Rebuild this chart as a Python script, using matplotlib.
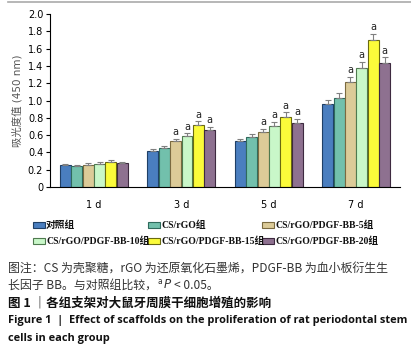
import matplotlib
matplotlib.use("Agg")
import matplotlib.pyplot as plt
from matplotlib.patches import Rectangle
import numpy as np

plt.rcParams['font.family'] = ['DejaVu Sans', 'Noto Sans CJK SC']

# 数据
days = ['1 d', '3 d', '5 d', '7 d']
groups = ['对照组', 'CS/rGO组', 'CS/rGO/PDGF-BB-5组',
          'CS/rGO/PDGF-BB-10组', 'CS/rGO/PDGF-BB-15组', 'CS/rGO/PDGF-BB-20组']
means = [
    [0.25, 0.24, 0.26, 0.265, 0.29, 0.275],   # 1d
    [0.415, 0.45, 0.53, 0.585, 0.72, 0.665],  # 3d
    [0.53, 0.575, 0.635, 0.71, 0.815, 0.74],  # 5d
    [0.96, 1.025, 1.215, 1.38, 1.695, 1.43],  # 7d
]
errs = [
    [0.015, 0.012, 0.015, 0.02, 0.02, 0.02],
    [0.03, 0.03, 0.03, 0.035, 0.04, 0.03],
    [0.03, 0.035, 0.04, 0.04, 0.05, 0.045],
    [0.05, 0.06, 0.06, 0.07, 0.08, 0.07],
]
# 显著性标记 (与对照组比较)
sig = [
    [0, 0, 0, 0, 0, 0],
    [0, 0, 1, 1, 1, 1],
    [0, 0, 1, 1, 1, 1],
    [0, 0, 1, 1, 1, 1],
]
yticks = [0, 0.2, 0.4, 0.6, 0.8, 1.0, 1.2, 1.4, 1.6, 1.8, 2.0]
ytick_labels = ['0', '0.2', '0.4', '0.6', '0.8', '1.0', '1.2', '1.4', '1.6', '1.8', '2.0']

colors = ['#4a7ebf', '#72c0ac', '#dccb98', '#c9f7c9', '#fbfb3a', '#8e7190']
edges = ['#1f3f66', '#2f6a5c', '#7a6a40', '#4f7a4f', '#6a6a10', '#3e2a40']

W, H = 411.0, 351.0
fig = plt.figure(figsize=(4.11, 3.51), dpi=100)
ax = fig.add_axes([0.122, 0.467, 0.851, 0.493])

x = np.arange(len(days))
w = 0.125
step = 0.13
means_arr = np.array(means)
errs_arr = np.array(errs)
for i, g in enumerate(groups):
    xs = x + (i - 2.5) * step
    ax.bar(xs, means_arr[:, i], width=w, color=colors[i], edgecolor=edges[i],
           linewidth=0.8, zorder=2)
    ax.errorbar(xs, means_arr[:, i], yerr=[np.zeros(len(days)), errs_arr[:, i]],
                fmt='none', ecolor='#808080', elinewidth=0.8, capsize=2, capthick=0.8, zorder=3)
    for j in range(len(days)):
        if sig[j][i]:
            ax.text(xs[j], means_arr[j, i] + errs_arr[j, i] + 0.02, 'a',
                    ha='center', va='bottom', fontsize=7, color='#222222')

ax.set_xlim(-0.5, 3.5)
ax.set_ylim(0, 2.0)
ax.set_yticks(yticks)
ax.set_yticklabels(ytick_labels, fontsize=7)
ax.set_xticks(x)
ax.set_xticklabels(days, fontsize=7)
ax.tick_params(axis='x', length=0, pad=9)
ax.tick_params(axis='y', length=3, width=0.8, pad=2)
for s in ['top', 'right']:
    ax.spines[s].set_visible(False)
ax.spines['left'].set_linewidth(0.8)
ax.spines['bottom'].set_linewidth(0.8)
ax.set_ylabel('吸光度值 (450 nm)', fontsize=7.5, color='#555555', labelpad=4)


def fy(py):
    return 1 - py / H


# 图例 (手动按行排列)
leg_x = [33, 148, 262]
leg_y = [225, 241]
lfont = {'family': ['Liberation Serif', 'Noto Sans CJK SC'], 'weight': 'bold', 'size': 7}
for k, g in enumerate(groups):
    r, c = divmod(k, 3)
    px, py = leg_x[c], leg_y[r]
    fig.add_artist(Rectangle((px / W, fy(py + 3)), 12 / W, 6 / H, transform=fig.transFigure,
                             facecolor=colors[k], edgecolor=edges[k], linewidth=0.8))
    fig.text((px + 13) / W, fy(py), g, va='center', ha='left', color='#111111', **lfont)

# 顶部灰线
fig.add_artist(plt.Line2D([8 / W, 1], [fy(1.5)] * 2, color='#aaaaaa', lw=1.2))

cjk = ['Noto Sans CJK SC', 'DejaVu Sans']
fig.text(8 / W, fy(268), '图注：CS 为壳聚糖，rGO 为还原氧化石墨烯，PDGF-BB 为血小板衍生生',
         fontsize=8.6, color='#333333', va='center', family=cjk)
t2 = fig.text(8 / W, fy(285), '长因子 BB。与对照组比较，',
              fontsize=8.6, color='#333333', va='center', family=cjk)
r = fig.canvas.get_renderer()
x_end = t2.get_window_extent(r).x1
ta = fig.text((x_end + 1) / W, fy(282), 'a', fontsize=5.5, color='#333333', va='center')
xa = ta.get_window_extent(r).x1
tp = fig.text((xa + 1) / W, fy(285), 'P', fontsize=8.6, color='#333333', va='center', style='italic')
xp = tp.get_window_extent(r).x1
fig.text((xp + 3) / W, fy(285), '< 0.05。', fontsize=8.6, color='#333333', va='center', family=cjk)
fig.text(8 / W, fy(303), '图 1 ｜各组支架对大鼠牙周膜干细胞增殖的影响',
         fontsize=9, color='#111111', va='center', weight='bold', family=cjk)
fig.text(8 / W, fy(321), 'Figure 1  |  Effect of scaffolds on the proliferation of rat periodontal stem',
         fontsize=7.9, color='#111111', va='center', weight='bold', family='Open Sans')
fig.text(8 / W, fy(338), 'cells in each group',
         fontsize=7.9, color='#111111', va='center', weight='bold', family='Open Sans')

fig.savefig('out.png', dpi=100)
